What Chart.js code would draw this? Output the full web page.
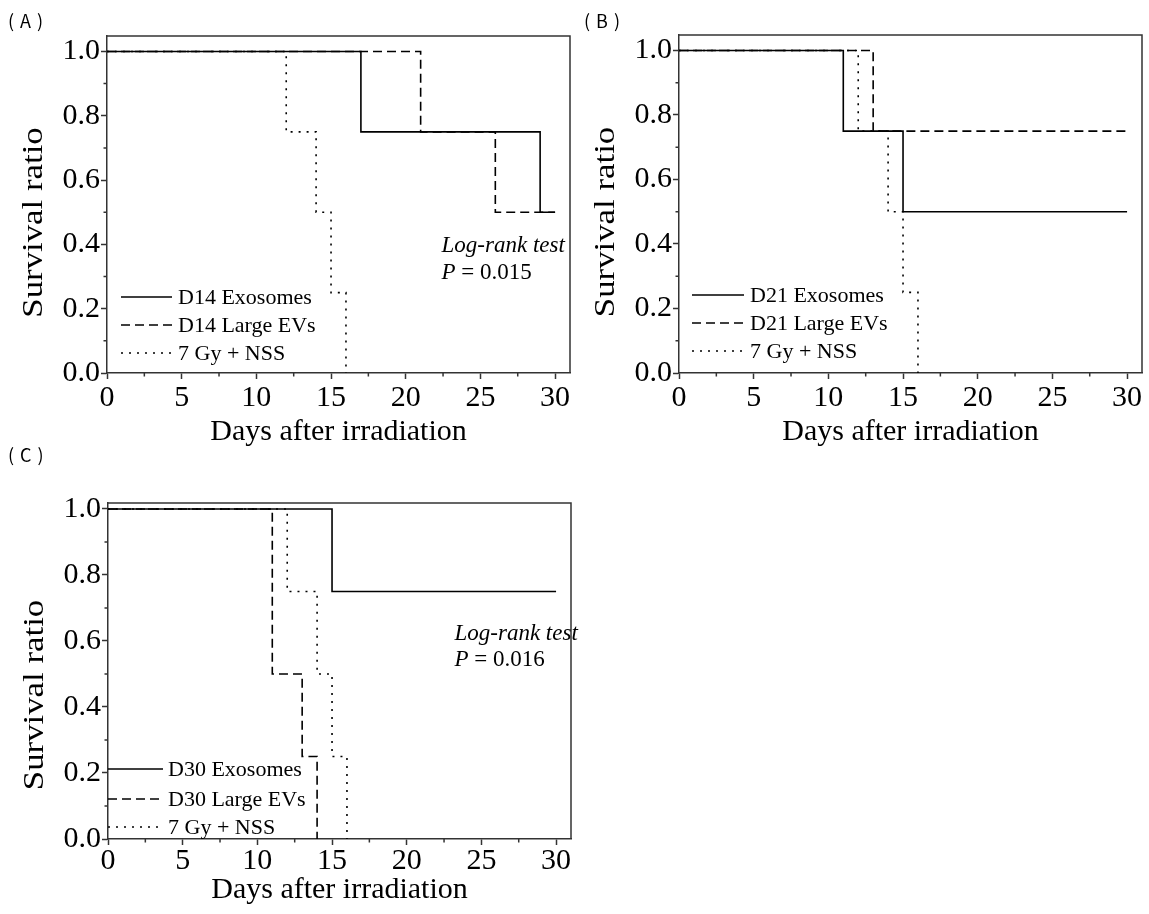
<!DOCTYPE html>
<html>
<head>
<meta charset="utf-8">
<script src="https://cdn.jsdelivr.net/npm/chart.js@4.4.0/dist/chart.umd.min.js"></script>
<style>
  body { margin: 0; background: #fff; }
  #wrap { position: relative; width: 1149px; height: 914px; overflow: hidden; }
  .panel { position: absolute; }
  .tag { position: absolute; font-family: "Noto Sans CJK JP"; font-size: 18px; line-height: 18px; letter-spacing: 6px; color: #000; }
</style>
</head>
<body>
<div id="wrap">
  <div class="panel" style="left:0;top:0;width:575px;height:455px"><canvas id="chartA"></canvas></div>
  <div class="panel" style="left:575px;top:0;width:574px;height:455px"><canvas id="chartB"></canvas></div>
  <div class="panel" style="left:0;top:455px;width:600px;height:459px"><canvas id="chartC"></canvas></div>
  <div class="tag" style="left:8px;top:11px">(A)</div>
  <div class="tag" style="left:584px;top:11px">(B)</div>
  <div class="tag" style="left:8px;top:445px">(C)</div>
</div>
<script>
// axis ticks
const daysTicks = [0, 5, 10, 15, 20, 25, 30];
const daysMinor = [2.5, 7.5, 12.5, 17.5, 22.5, 27.5];
const ratioTicks = [0, 0.2, 0.4, 0.6, 0.8, 1.0];
const ratioMinor = [0.1, 0.3, 0.5, 0.7, 0.9];

// (A) day 14
const aLabels = ['D14 Exosomes', 'D14 Large EVs', '7 Gy + NSS'];
const aExoDays = [0, 17, 29, 30];
const aExoRatio = [1, 0.75, 0.5, 0.5];
const aEvDays = [0, 21, 26, 30];
const aEvRatio = [1, 0.75, 0.5, 0.5];
const aNssDays = [0, 12, 14, 15, 16];
const aNssRatio = [1, 0.75, 0.5, 0.25, 0];
const aPValue = '0.015';

// (B) day 21
const bLabels = ['D21 Exosomes', 'D21 Large EVs', '7 Gy + NSS'];
const bExoDays = [0, 11, 15, 30];
const bExoRatio = [1, 0.75, 0.5, 0.5];
const bEvDays = [0, 13, 30];
const bEvRatio = [1, 0.75, 0.75];
const bNssDays = [0, 12, 14, 15, 16];
const bNssRatio = [1, 0.75, 0.5, 0.25, 0];

// (C) day 30
const cLabels = ['D30 Exosomes', 'D30 Large EVs', '7 Gy + NSS'];
const cExoDays = [0, 15, 30];
const cExoRatio = [1, 0.75, 0.75];
const cEvDays = [0, 11, 13, 14];
const cEvRatio = [1, 0.5, 0.25, 0];
const cNssDays = [0, 12, 14, 15, 16];
const cNssRatio = [1, 0.75, 0.5, 0.25, 0];
const cPValue = '0.016';

const serif = '"Liberation Serif", "Times New Roman", serif';
const axisColor = '#333';
const dashes = [[], [9, 5], [2, 6]];

// box top/right edges and the short minor ticks
const frameTicks = {
    id: 'frameTicks',
    afterDraw(chart) {
        const { ctx, chartArea: a, scales: { x, y } } = chart;
        ctx.save();
        ctx.strokeStyle = axisColor;
        ctx.lineWidth = 1.5;
        ctx.beginPath();
        ctx.moveTo(a.left, a.top);
        ctx.lineTo(a.right, a.top);
        ctx.lineTo(a.right, a.bottom);
        daysMinor.forEach(v => {
            const px = x.getPixelForValue(v);
            ctx.moveTo(px, a.bottom);
            ctx.lineTo(px, a.bottom + 3.5);
        });
        ratioMinor.forEach(v => {
            const py = y.getPixelForValue(v);
            ctx.moveTo(a.left, py);
            ctx.lineTo(a.left - 3.5, py);
        });
        ctx.stroke();
        ctx.restore();
    }
};

// y title, a little drawn out along its length like the original
const yTitle = {
    id: 'yTitle',
    afterDraw(chart, args, opts) {
        const { ctx, chartArea: a } = chart;
        ctx.save();
        ctx.translate(a.left - opts.dx, (a.top + a.bottom) / 2 + opts.dy);
        ctx.rotate(-Math.PI / 2);
        ctx.scale(opts.stretch, 1);
        ctx.font = '29px ' + serif;
        ctx.fillStyle = '#000';
        ctx.textAlign = 'center';
        ctx.textBaseline = 'middle';
        ctx.fillText(opts.text, 0, 0);
        ctx.restore();
    }
};

// legend drawn inside the plot, lower left
const insideLegend = {
    id: 'insideLegend',
    afterDatasetsDraw(chart, args, opts) {
        const { ctx, chartArea: a } = chart;
        ctx.save();
        ctx.font = '22px ' + serif;
        ctx.textBaseline = 'middle';
        ctx.fillStyle = '#000';
        chart.data.datasets.forEach((ds, i) => {
            const yy = a.bottom - opts.rows[i];
            const x0 = a.left + opts.left;
            ctx.strokeStyle = '#000';
            ctx.lineWidth = ds.borderWidth;
            ctx.setLineDash(ds.borderDash);
            ctx.beginPath();
            ctx.moveTo(x0, yy);
            ctx.lineTo(x0 + opts.len, yy);
            ctx.stroke();
            ctx.fillText(ds.label, x0 + opts.len + opts.gap, yy + 1);
        });
        ctx.restore();
    }
};

// log-rank note
const note = {
    id: 'note',
    afterDraw(chart, args, opts) {
        const { ctx, scales: { x, y } } = chart;
        const px = x.getPixelForValue(opts.at[0]);
        ctx.save();
        ctx.fillStyle = '#000';
        ctx.textBaseline = 'middle';
        ctx.font = 'italic 23px ' + serif;
        ctx.fillText('Log-rank test', px, y.getPixelForValue(opts.at[1]));
        const py = y.getPixelForValue(opts.at[2]);
        ctx.fillText('P', px, py);
        const w = ctx.measureText('P').width;
        ctx.font = '23px ' + serif;
        ctx.fillText(' = ' + opts.p, px + w, py);
        ctx.restore();
    }
};

function makePanel(id, labels, days, ratios, lay) {
    const datasets = labels.map((label, i) => ({
        label: label,
        data: days[i].map((d, k) => ({ x: d, y: ratios[i][k] })),
        borderColor: '#000',
        borderWidth: 1.6,
        borderDash: dashes[i],
        stepped: true,
        pointRadius: 0,
        fill: false
    }));

    new Chart(document.getElementById(id), {
        type: 'line',
        data: { datasets: datasets },
        options: {
            responsive: true,
            maintainAspectRatio: false,
            animation: false,
            layout: { padding: { left: 0, top: lay.top, right: lay.right, bottom: 0 } },
            plugins: {
                legend: { display: false },
                tooltip: { enabled: false },
                yTitle: { text: 'Survival ratio', dx: 73, dy: lay.tdy, stretch: 1.2 },
                insideLegend: lay.legend,
                note: lay.note || false
            },
            scales: {
                x: {
                    type: 'linear', min: 0, max: 31,
                    afterBuildTicks: s => { s.ticks = daysTicks.map(v => ({ value: v })); },
                    afterFit: s => { s.height = lay.xh; },
                    ticks: { font: { family: serif, size: 30 }, color: '#000', padding: lay.xpad, maxRotation: 0, autoSkip: false },
                    grid: { display: true, drawOnChartArea: false, tickLength: 6, tickColor: axisColor, tickWidth: 1.5 },
                    border: { color: axisColor, width: 1.5 },
                    title: { display: true, text: 'Days after irradiation', color: '#000',
                             font: { family: serif, size: 30 }, padding: { top: 0, bottom: lay.xtp } }
                },
                y: {
                    type: 'linear', min: 0, max: lay.ymax,
                    afterBuildTicks: s => { s.ticks = ratioTicks.map(v => ({ value: v })); },
                    afterFit: s => { s.width = lay.yw; },
                    ticks: { font: { family: serif, size: 30 }, color: '#000', padding: 1,
                             callback: v => Number(v).toFixed(1) },
                    grid: { display: true, drawOnChartArea: false, tickLength: 6, tickColor: axisColor, tickWidth: 1.5 },
                    border: { color: axisColor, width: 1.5 }
                }
            }
        },
        plugins: [frameTicks, yTitle, insideLegend, note]
    });
}

makePanel('chartA', aLabels, [aExoDays, aEvDays, aNssDays], [aExoRatio, aEvRatio, aNssRatio], {
    top: 36, right: 5, yw: 107, xh: 82, xpad: 1, xtp: 4.5, ymax: 1.048, tdy: 18,
    legend: { left: 14, len: 51, gap: 6, rows: [76, 48, 20] },
    note: { at: [22.4, 0.395, 0.31], p: aPValue }
});

makePanel('chartB', bLabels, [bExoDays, bEvDays, bNssDays], [bExoRatio, bEvRatio, bNssRatio], {
    top: 35, right: 7, yw: 104, xh: 82, xpad: 1, xtp: 4.5, ymax: 1.048, tdy: 18,
    legend: { left: 13, len: 52, gap: 6, rows: [78, 50, 22] }
});

makePanel('chartC', cLabels, [cExoDays, cEvDays, cNssDays], [cExoRatio, cEvRatio, cNssRatio], {
    top: 48, right: 29, yw: 108, xh: 75, xpad: -2, xtp: 5.5, ymax: 1.018, tdy: 24,
    legend: { left: 0, len: 55, gap: 5, rows: [70, 40, 12] },
    note: { at: [23.2, 0.621, 0.541], p: cPValue }
});
</script>
</body>
</html>
